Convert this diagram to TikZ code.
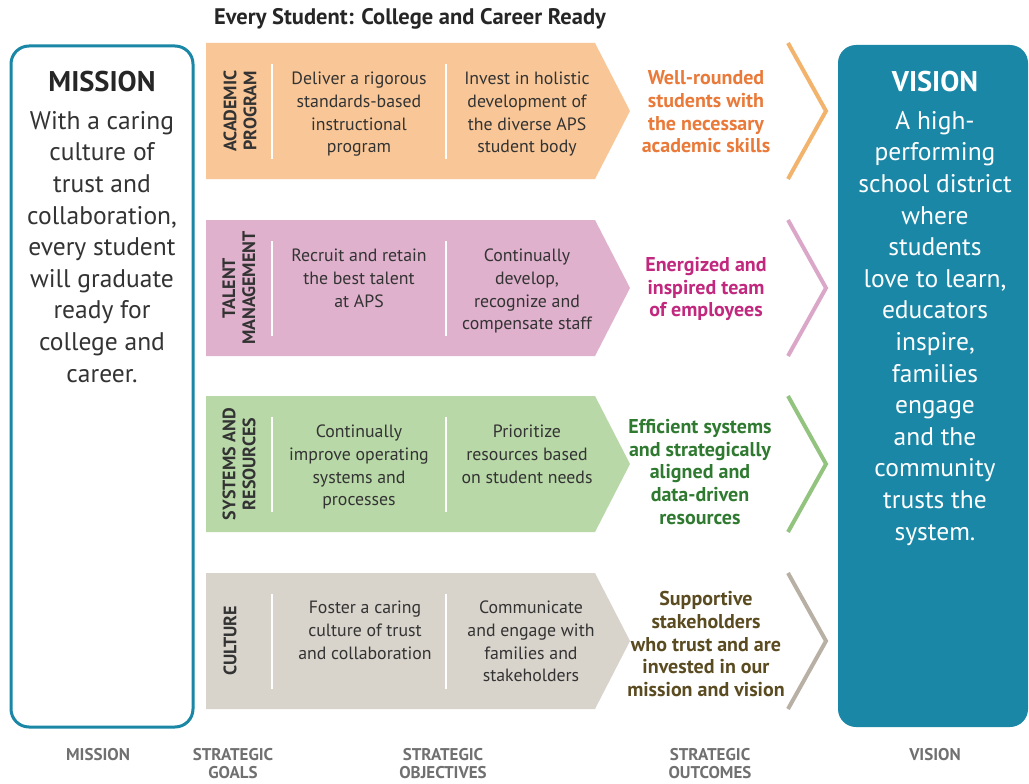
\documentclass[tikz,border=0pt]{standalone}
\usepackage{fontspec}
\setmainfont{PT Sans}
\definecolor{teal1}{HTML}{1A87A6}
\definecolor{fillA}{HTML}{F9C797}
\definecolor{fillB}{HTML}{DFB1CC}
\definecolor{fillC}{HTML}{B8D8A7}
\definecolor{fillD}{HTML}{D8D3CB}
\definecolor{outA}{HTML}{EA7A3A}
\definecolor{outB}{HTML}{C1287E}
\definecolor{outC}{HTML}{2F7A30}
\definecolor{outD}{HTML}{5B4B21}
\definecolor{chevA}{HTML}{F2B36D}
\definecolor{chevB}{HTML}{DBA7C9}
\definecolor{chevC}{HTML}{93C47F}
\definecolor{chevD}{HTML}{B8B0A4}
\definecolor{bodytxt}{HTML}{333333}
\definecolor{foot}{HTML}{707070}
\begin{document}
\begin{tikzpicture}[x=1pt,y=-1pt,
  objtxt/.style={anchor=north,align=center,inner sep=0pt,text=bodytxt,font=\fontsize{17.8}{22.6}\selectfont},
  goaltxt/.style={rotate=90,align=center,inner sep=0pt,text=bodytxt,font=\bfseries\fontsize{18}{20}\selectfont},
  outtxt/.style={align=center,inner sep=0pt,font=\bfseries\fontsize{20}{22.7}\selectfont},
  sepline/.style={white,line width=2pt},
  chevline/.style={line width=4pt,line join=miter},
  foottxt/.style={align=center,inner sep=0pt,text=foot,font=\bfseries\fontsize{17}{18.5}\selectfont},
  bigtxt/.style={align=center,inner sep=0pt,font=\fontsize{25.5}{31.6}\selectfont},
  headtxt/.style={inner sep=0pt,font=\bfseries\fontsize{28.5}{30}\selectfont}]
\useasboundingbox (0,0) rectangle (1029,784);
\fill[white] (0,0) rectangle (1029,784);

% title
\node[inner sep=0pt,text=black!85,font=\bfseries\fontsize{22.5}{24}\selectfont] (title) at (410,19) {Every Student: College and Career Ready};

% mission box
\draw[teal1,line width=3pt,rounded corners=18pt] (11,46) rectangle (193,727);
\node[headtxt,text=black!85] (missionhead) at (102,82) {MISSION};
\node[bigtxt,anchor=north,text=bodytxt] (missionbody) at (102,111) {With a caring\\culture of\\trust and\\collaboration,\\every student\\will graduate\\ready for\\college and\\career.};

% vision box
\fill[teal1,rounded corners=18pt] (838,45) rectangle (1028,727);
\node[headtxt,text=white] (visionhead) at (935,82) {VISION};
\node[bigtxt,anchor=north,text=white] (visionbody) at (935,111) {A high-\\performing\\school district\\where\\students\\love to learn,\\educators\\inspire,\\families\\engage\\and the\\community\\trusts the\\system.};

% row A
\fill[fillA] (206,43) -- (595,43) -- (630,111) -- (595,179) -- (206,179) -- cycle;
\draw[sepline] (272,64) -- (272,159);
\draw[sepline] (446,64) -- (446,159);
\node[goaltxt] (goalA) at (240,111) {ACADEMIC\\PROGRAM};
\node[objtxt] (objA1) at (359,72) {Deliver a rigorous\\standards-based\\instructional\\program};
\node[objtxt] (objA2) at (527,72) {Invest in holistic\\development of\\the diverse APS\\student body};
\node[outtxt,text=outA] (outA) at (706,112) {Well-rounded\\students with\\the necessary\\academic skills};
\draw[chevline,chevA] (788,43) -- (826,111) -- (788,179);

% row B
\fill[fillB] (206,220) -- (595,220) -- (630,288) -- (595,356) -- (206,356) -- cycle;
\draw[sepline] (272,241) -- (272,336);
\draw[sepline] (446,241) -- (446,336);
\node[goaltxt] (goalB) at (239,288) {TALENT\\MANAGEMENT};
\node[objtxt] (objB1) at (359,249) {Recruit and retain\\the best talent\\at APS};
\node[objtxt] (objB2) at (527,249) {Continually\\develop,\\recognize and\\compensate staff};
\node[outtxt,text=outB] (outB) at (706,289) {Energized and\\inspired team\\of employees};
\draw[chevline,chevB] (788,220) -- (826,288) -- (788,356);

% row C
\fill[fillC] (206,396) -- (595,396) -- (630,464) -- (595,532) -- (206,532) -- cycle;
\draw[sepline] (272,417) -- (272,512);
\draw[sepline] (446,417) -- (446,512);
\node[goaltxt] (goalC) at (239,464) {SYSTEMS AND\\RESOURCES};
\node[objtxt] (objC1) at (359,425) {Continually\\improve operating\\systems and\\processes};
\node[objtxt] (objC2) at (527,425) {Prioritize\\resources based\\on student needs};
\node[outtxt,text=outC] (outC) at (700,472) {Efficient systems\\and strategically\\aligned and\\data-driven\\resources};
\draw[chevline,chevC] (788,396) -- (826,464) -- (788,532);

% row D
\fill[fillD] (206,573) -- (595,573) -- (630,641) -- (595,709) -- (206,709) -- cycle;
\draw[sepline] (272,594) -- (272,689);
\draw[sepline] (446,594) -- (446,689);
\node[goaltxt] (goalD) at (230,641) {CULTURE};
\node[objtxt] (objD1) at (365,601) {Foster a caring\\culture of trust\\and collaboration};
\node[objtxt] (objD2) at (531,601) {Communicate\\and engage with\\families and\\stakeholders};
\node[outtxt,text=outD] (outD) at (706,644) {Supportive\\stakeholders\\who trust and are\\invested in our\\mission and vision};
\draw[chevline,chevD] (788,573) -- (826,641) -- (788,709);

% footer
\node[foottxt,anchor=north] (fmission) at (98,748) {MISSION};
\node[foottxt,anchor=north] (fgoals) at (233,748) {STRATEGIC\\GOALS};
\node[foottxt,anchor=north] (fobj) at (443,748) {STRATEGIC\\OBJECTIVES};
\node[foottxt,anchor=north] (fout) at (710,748) {STRATEGIC\\OUTCOMES};
\node[foottxt,anchor=north] (fvision) at (935,748) {VISION};
\end{tikzpicture}
\end{document}
